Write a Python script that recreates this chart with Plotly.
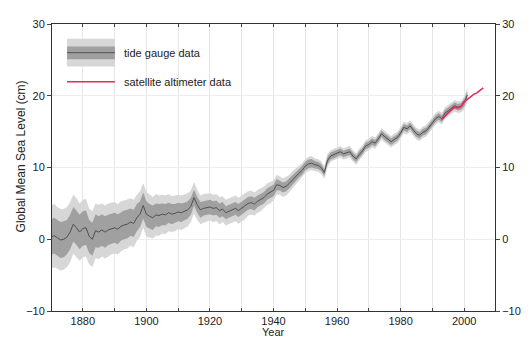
import plotly.graph_objects as go

# ---------------- data ----------------
years = list(range(1870, 2002))
tide_gauge = [
    0.3, 0.5, 0.2, -0.1, 0.0, 0.3, 1.0, 2.1, 1.6, 1.0,      # 1870s
    1.5, 1.6, 0.4, 0.0, 1.2, 1.0, 1.3, 1.0, 1.3, 1.5,       # 1880s
    1.6, 1.4, 1.8, 2.0, 2.1, 2.4, 2.2, 3.0, 3.5, 4.7,       # 1890s
    3.5, 3.2, 3.0, 3.4, 3.3, 3.5, 3.4, 3.7, 3.5, 3.6,       # 1900s
    3.8, 3.7, 3.9, 4.1, 4.6, 5.8, 4.8, 4.1, 4.3, 4.4,       # 1910s
    4.5, 4.3, 4.4, 4.0, 4.2, 3.7, 3.9, 4.1, 4.3, 4.0,       # 1920s
    4.3, 4.6, 5.0, 5.1, 4.9, 5.3, 5.5, 5.8, 6.3, 6.5,       # 1930s
    6.8, 7.6, 7.5, 7.2, 7.4, 7.8, 8.3, 8.8, 9.2, 9.6,       # 1940s
    10.2, 10.5, 10.6, 10.4, 10.3, 10.0, 9.3, 11.0, 11.6, 11.8,  # 1950s
    12.0, 12.2, 11.9, 12.1, 12.2, 11.6, 11.2, 11.8, 12.3, 13.0,  # 1960s
    13.2, 13.6, 13.4, 14.0, 14.7, 14.3, 13.9, 13.6, 13.9, 14.2,  # 1970s
    14.8, 15.6, 15.4, 15.8, 15.2, 14.7, 14.5, 14.9, 15.1, 15.6,  # 1980s
    16.2, 16.8, 17.1, 16.8, 17.6, 17.9, 18.2, 18.6, 18.4, 18.5,  # 1990s
    19.0, 20.1,                                              # 2000-2001
]
# half-width of the outer (light) uncertainty band, cm
outer_halfwidth = [
    4.4, 4.4, 4.3, 4.3, 4.2, 4.2, 4.2, 4.1, 4.1, 4.0,
    4.0, 4.0, 3.9, 3.9, 3.8, 3.8, 3.7, 3.7, 3.7, 3.6,
    3.6, 3.5, 3.5, 3.4, 3.4, 3.3, 3.3, 3.2, 3.2, 3.1,
    3.1, 3.0, 2.9, 2.9, 2.8, 2.7, 2.7, 2.6, 2.5, 2.5,
    2.4, 2.4, 2.3, 2.3, 2.2, 2.2, 2.1, 2.0, 2.0, 1.9,
    1.9, 1.9, 1.9, 1.9, 1.8, 1.8, 1.8, 1.8, 1.8, 1.8,
    1.8, 1.8, 1.7, 1.7, 1.6, 1.6, 1.6, 1.5, 1.5, 1.5,
    1.4, 1.4, 1.3, 1.3, 1.3, 1.2, 1.2, 1.1, 1.1, 1.0,
    1.0, 1.0, 1.0, 0.9, 0.9, 0.9, 0.9, 0.9, 0.8, 0.8,
    0.8, 0.8, 0.8, 0.8, 0.8, 0.8, 0.8, 0.8, 0.8, 0.8,
    0.8, 0.8, 0.8, 0.8, 0.8, 0.8, 0.8, 0.8, 0.8, 0.8,
    0.8, 0.8, 0.8, 0.8, 0.8, 0.8, 0.8, 0.8, 0.8, 0.8,
    0.8, 0.8, 0.8, 0.8, 0.8, 0.8, 0.8, 0.8, 0.8, 0.8,
    0.9, 1.0,
]
# half-width of the inner (dark) uncertainty band, cm
inner_halfwidth = [
    2.5, 2.5, 2.5, 2.5, 2.5, 2.4, 2.4, 2.4, 2.4, 2.4,
    2.4, 2.4, 2.3, 2.3, 2.3, 2.2, 2.2, 2.2, 2.1, 2.1,
    2.1, 2.1, 2.0, 2.0, 2.0, 1.9, 1.9, 1.9, 1.8, 1.8,
    1.8, 1.7, 1.7, 1.6, 1.6, 1.5, 1.5, 1.4, 1.4, 1.3,
    1.3, 1.3, 1.2, 1.2, 1.2, 1.1, 1.1, 1.1, 1.0, 1.0,
    1.0, 1.0, 1.0, 1.0, 1.0, 0.9, 0.9, 0.9, 0.9, 0.9,
    0.9, 0.9, 0.9, 0.9, 0.9, 0.8, 0.8, 0.8, 0.8, 0.8,
    0.8, 0.8, 0.7, 0.7, 0.7, 0.7, 0.7, 0.6, 0.6, 0.6,
    0.6, 0.6, 0.6, 0.5, 0.5, 0.5, 0.5, 0.5, 0.5, 0.5,
    0.45, 0.45, 0.45, 0.45, 0.45, 0.45, 0.45, 0.45, 0.45, 0.45,
    0.45, 0.45, 0.45, 0.45, 0.45, 0.45, 0.45, 0.45, 0.45, 0.45,
    0.45, 0.45, 0.45, 0.45, 0.45, 0.45, 0.45, 0.45, 0.45, 0.45,
    0.45, 0.45, 0.45, 0.45, 0.45, 0.45, 0.45, 0.45, 0.45, 0.45,
    0.5, 0.5,
]
sat_years = [1993, 1994, 1995, 1996, 1997, 1998, 1999, 2000, 2001, 2002, 2003, 2004, 2005, 2006]
satellite = [16.7, 17.2, 17.6, 18.1, 18.4, 18.3, 18.5, 19.2, 19.5, 19.9, 20.2, 20.4, 20.7, 21.1]

x_tick_labels = [1880, 1900, 1920, 1940, 1960, 1980, 2000]
y_tick_labels = [-10, 0, 10, 20, 30]
legend_labels = ["tide gauge data", "satellite altimeter data"]

# ---------------- styles ----------------
LIGHT = "#d7d7d7"
DARK = "#a0a0a0"
CENTER = "#505050"
RED = "#e8285a"
FONT = "Liberation Sans, Arial, sans-serif"
TXT = "#222222"

outer_lo = [v - h for v, h in zip(tide_gauge, outer_halfwidth)]
outer_hi = [v + h for v, h in zip(tide_gauge, outer_halfwidth)]
inner_lo = [v - h for v, h in zip(tide_gauge, inner_halfwidth)]
inner_hi = [v + h for v, h in zip(tide_gauge, inner_halfwidth)]

fig = go.Figure()
fig.add_trace(go.Scatter(x=years, y=outer_lo, mode="lines", line=dict(width=0, color=LIGHT),
                         showlegend=False, hoverinfo="skip"))
fig.add_trace(go.Scatter(x=years, y=outer_hi, mode="lines", line=dict(width=0, color=LIGHT),
                         fill="tonexty", fillcolor=LIGHT, showlegend=False, hoverinfo="skip"))
fig.add_trace(go.Scatter(x=years, y=inner_lo, mode="lines", line=dict(width=0, color=DARK),
                         showlegend=False, hoverinfo="skip"))
fig.add_trace(go.Scatter(x=years, y=inner_hi, mode="lines", line=dict(width=0, color=DARK),
                         fill="tonexty", fillcolor=DARK, showlegend=False, hoverinfo="skip"))
fig.add_trace(go.Scatter(x=years, y=tide_gauge, mode="lines", line=dict(width=1, color=CENTER),
                         name=legend_labels[0], showlegend=False))
fig.add_trace(go.Scatter(x=sat_years, y=satellite, mode="lines", line=dict(width=1.6, color=RED),
                         name=legend_labels[1], showlegend=False, yaxis="y2"))

# ---------------- manual legend (axis-domain coordinates) ----------------
fig.add_shape(type="rect", xref="x domain", yref="y domain", x0=0.034, x1=0.142, y0=0.852, y1=0.949,
              fillcolor=LIGHT, line=dict(width=0), layer="above")
fig.add_shape(type="rect", xref="x domain", yref="y domain", x0=0.034, x1=0.142, y0=0.877, y1=0.922,
              fillcolor=DARK, line=dict(width=0), layer="above")
fig.add_shape(type="line", xref="x domain", yref="y domain", x0=0.034, x1=0.142, y0=0.900, y1=0.900,
              line=dict(width=1, color=CENTER), layer="above")
fig.add_shape(type="line", xref="x domain", yref="y domain", x0=0.034, x1=0.142, y0=0.799, y1=0.799,
              line=dict(width=1.6, color=RED), layer="above")
fig.add_annotation(xref="x domain", yref="y domain", x=0.158, y=0.900, text=legend_labels[0],
                   showarrow=False, xanchor="left", yanchor="middle", font=dict(family=FONT, size=11, color=TXT))
fig.add_annotation(xref="x domain", yref="y domain", x=0.158, y=0.799, text=legend_labels[1],
                   showarrow=False, xanchor="left", yanchor="middle", font=dict(family=FONT, size=11, color=TXT))

# axis titles
fig.add_annotation(xref="paper", yref="paper", x=0.5, y=-0.073, text="Year", showarrow=False,
                   xanchor="center", yanchor="middle", font=dict(family=FONT, size=11, color=TXT))
fig.add_annotation(xref="paper", yref="paper", x=-0.069, y=0.54, text="Global Mean Sea Level (cm)",
                   textangle=-90, showarrow=False, xanchor="center", yanchor="middle",
                   font=dict(family=FONT, size=12, color=TXT))

# page body has an 8px default margin, so the figure is sized/placed to compensate
fig.update_layout(
    width=523, height=330,
    margin=dict(l=44, r=34, t=10, b=27),
    paper_bgcolor="white", plot_bgcolor="white",
    font=dict(family=FONT, size=11, color=TXT),
    showlegend=False,
    xaxis=dict(
        range=[1870.3, 2009.7], tickvals=x_tick_labels, ticktext=[str(v) for v in x_tick_labels],
        ticks="inside", ticklen=3, tickcolor="#444", showline=True, linecolor="#333", linewidth=1,
        mirror="allticks", showgrid=True, gridcolor="#e6e6e6", gridwidth=1, zeroline=False,
        minor=dict(dtick=10, tick0=1870, ticks="inside", ticklen=3, tickcolor="#444",
                   showgrid=True, gridcolor="#e6e6e6"),
        tickfont=dict(family=FONT, size=11, color=TXT),
    ),
    yaxis=dict(
        range=[-10, 30], tickvals=y_tick_labels, ticks="outside", ticklen=4, tickcolor="#444",
        showline=True, linecolor="#333", linewidth=1, showgrid=True, gridcolor="#ececec",
        zeroline=False, tickfont=dict(family=FONT, size=11, color=TXT),
    ),
    yaxis2=dict(
        range=[-10, 30], tickvals=y_tick_labels, ticks="outside", ticklen=4, tickcolor="#444",
        overlaying="y", side="right", anchor="x", showline=True, linecolor="#333", linewidth=1,
        showgrid=False, zeroline=False, tickfont=dict(family=FONT, size=11, color=TXT),
    ),
)

fig.write_html("out.html")
